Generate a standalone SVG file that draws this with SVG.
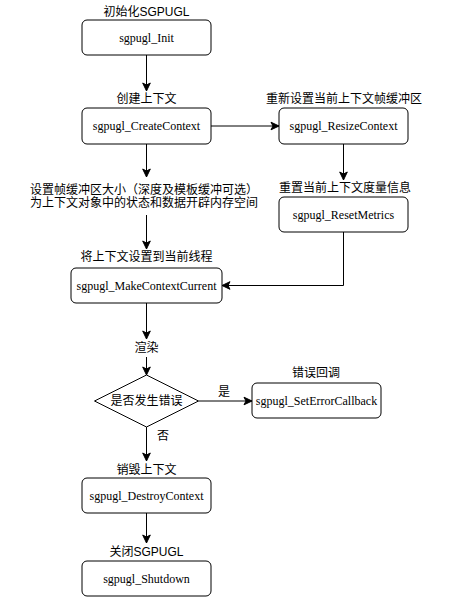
<svg xmlns="http://www.w3.org/2000/svg" width="454" height="600" viewBox="0 0 454 600">
<defs>
<marker id="arr" markerUnits="userSpaceOnUse" markerWidth="10" markerHeight="10" viewBox="0 0 10 10" refX="9" refY="5" orient="auto">
<path d="M1,1.2 L9,5 L1,8.8 L3,5 Z" fill="#000" stroke="#000" stroke-width="1"/>
</marker>
</defs>
<style>
.box{fill:#fff;stroke:#000;stroke-width:1}
.bt{font-family:"Liberation Serif","Times New Roman",serif;font-size:12px;fill:#000;text-anchor:middle;dominant-baseline:central}
.lb{font-family:"Liberation Sans","Noto Sans CJK SC",sans-serif;font-size:12px;fill:#000;text-anchor:middle;dominant-baseline:central}
.ln{fill:none;stroke:#000;stroke-width:1}
</style>
<rect width="454" height="600" fill="#fff"/>
<g id="connectors">
<line class="ln" x1="146.5" y1="55" x2="146.5" y2="91" marker-end="url(#arr)"/>
<line class="ln" x1="146.5" y1="144" x2="146.5" y2="177" marker-end="url(#arr)"/>
<line class="ln" x1="146.5" y1="215" x2="146.5" y2="249" marker-end="url(#arr)"/>
<line class="ln" x1="211" y1="126" x2="279" y2="126" marker-end="url(#arr)"/>
<line class="ln" x1="343.5" y1="144" x2="343.5" y2="180" marker-end="url(#arr)"/>
<polyline class="ln" points="343.5,232 343.5,285.5 222,285.5" marker-end="url(#arr)"/>
<line class="ln" x1="146.5" y1="303" x2="146.5" y2="339" marker-end="url(#arr)"/>
<line class="ln" x1="146.5" y1="357" x2="146.5" y2="375" marker-end="url(#arr)"/>
<line class="ln" x1="198.5" y1="401" x2="252" y2="401" marker-end="url(#arr)"/>
<line class="ln" x1="146.5" y1="427" x2="146.5" y2="461" marker-end="url(#arr)"/>
<line class="ln" x1="146.5" y1="513" x2="146.5" y2="543" marker-end="url(#arr)"/>
<text class="lb" x="224" y="392">是</text>
<text class="lb" x="163" y="436">否</text>
</g>
<g id="init">
<text class="lb" x="146.5" y="12">初始化SGPUGL</text>
<rect class="box" x="82" y="20" width="129" height="35" rx="5"/>
<text class="bt" x="146.5" y="37.5">sgpugl_Init</text>
</g>
<g id="create">
<text class="lb" x="146.5" y="99">创建上下文</text>
<rect class="box" x="82" y="108" width="129" height="36" rx="5"/>
<text class="bt" x="146.5" y="126">sgpugl_CreateContext</text>
</g>
<g id="note">
<text class="lb" x="144" y="190">设置帧缓冲区大小（深度及模板缓冲可选）</text>
<text class="lb" x="144" y="203">为上下文对象中的状态和数据开辟内存空间</text>
</g>
<g id="resize">
<text class="lb" x="344" y="99">重新设置当前上下文帧缓冲区</text>
<rect class="box" x="279" y="108" width="129" height="36" rx="5"/>
<text class="bt" x="343.5" y="126">sgpugl_ResizeContext</text>
</g>
<g id="reset">
<text class="lb" x="345" y="188">重置当前上下文度量信息</text>
<rect class="box" x="279" y="197" width="129" height="35" rx="5"/>
<text class="bt" x="343.5" y="214.5">sgpugl_ResetMetrics</text>
</g>
<g id="current">
<text class="lb" x="146.5" y="257">将上下文设置到当前线程</text>
<rect class="box" x="71" y="268" width="151" height="35" rx="5"/>
<text class="bt" x="146.5" y="285.5">sgpugl_MakeContextCurrent</text>
</g>
<g id="render">
<text class="lb" x="146.5" y="348">渲染</text>
</g>
<g id="decision">
<polygon class="box" points="146.5,375 198.5,401 146.5,427 94.5,401"/>
<text class="lb" x="146.5" y="401">是否发生错误</text>
</g>
<g id="errorcb">
<text class="lb" x="316" y="373">错误回调</text>
<rect class="box" x="252" y="383" width="129" height="35" rx="5"/>
<text class="bt" x="316.5" y="400.5">sgpugl_SetErrorCallback</text>
</g>
<g id="destroy">
<text class="lb" x="146.5" y="470">销毁上下文</text>
<rect class="box" x="82" y="478" width="129" height="35" rx="5"/>
<text class="bt" x="146.5" y="495.5">sgpugl_DestroyContext</text>
</g>
<g id="shutdown">
<text class="lb" x="146.5" y="552">关闭SGPUGL</text>
<rect class="box" x="82" y="561" width="129" height="35" rx="5"/>
<text class="bt" x="146.5" y="578.5">sgpugl_Shutdown</text>
</g>
</svg>
